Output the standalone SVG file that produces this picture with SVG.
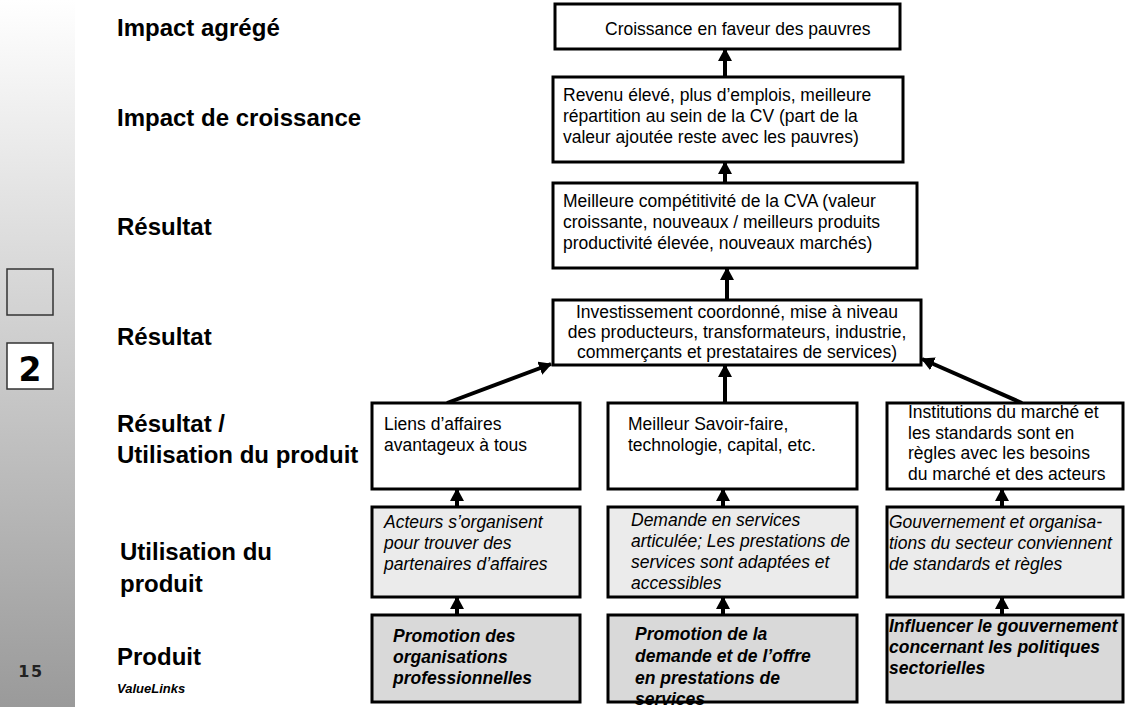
<svg xmlns="http://www.w3.org/2000/svg" width="1126" height="707" viewBox="0 0 1126 707">
<defs>
<linearGradient id="side" x1="0" y1="0" x2="0" y2="1">
<stop offset="0" stop-color="#ffffff"/>
<stop offset="1" stop-color="#9a9a9a"/>
</linearGradient>
<marker id="ah" markerUnits="userSpaceOnUse" markerWidth="14" markerHeight="14" refX="12" refY="7" orient="auto">
<path d="M0,0 L13,7 L0,14 Z" fill="#000"/>
</marker>
<style>
.lvl{font-family:"Liberation Sans",Arial,sans-serif;font-weight:bold;font-size:24px;fill:#000}
.box{fill:#fff;stroke:#000;stroke-width:3}
.use{fill:#ebebeb;stroke:#000;stroke-width:3}
.prod{fill:#d9d9d9;stroke:#000;stroke-width:3}
.t{font-family:"Liberation Sans",Arial,sans-serif;font-size:17.5px;fill:#000}
.ti{font-family:"Liberation Sans",Arial,sans-serif;font-size:17.5px;font-style:italic;fill:#000}
.tb{font-family:"Liberation Sans",Arial,sans-serif;font-size:17.5px;font-style:italic;font-weight:bold;fill:#000}
.arr{stroke:#000;stroke-width:4;fill:none;marker-end:url(#ah)}
</style>
</defs>
<rect width="1126" height="707" fill="#fff"/>
<g id="sidebar">
<rect x="0" y="0" width="75" height="707" fill="url(#side)"/>
<rect x="7" y="269" width="46" height="46" fill="none" stroke="#333" stroke-width="1.5"/>
<rect x="7" y="343" width="46" height="46" fill="#fff" stroke="#333" stroke-width="1.5"/>
<text x="30" y="381" text-anchor="middle" font-family="DejaVu Sans,Verdana,sans-serif" font-weight="bold" font-size="33" fill="#000">2</text>
<text x="31" y="677" text-anchor="middle" font-family="DejaVu Sans,Verdana,sans-serif" font-weight="bold" font-size="16" fill="#222" letter-spacing="1.5">15</text>
</g>
<g id="levels">
<text class="lvl" x="117" y="36">Impact agrégé</text>
<text class="lvl" x="117" y="126">Impact de croissance</text>
<text class="lvl" x="117" y="235">Résultat</text>
<text class="lvl" x="117" y="345">Résultat</text>
<text class="lvl" x="117" y="432">Résultat /</text>
<text class="lvl" x="117" y="463">Utilisation du produit</text>
<text class="lvl" x="120" y="560">Utilisation du</text>
<text class="lvl" x="120" y="592">produit</text>
<text class="lvl" x="117" y="665">Produit</text>
<text x="117" y="693" font-family="Liberation Sans,Arial,sans-serif" font-size="13" font-weight="bold" font-style="italic" fill="#000">ValueLinks</text>
</g>
<g id="connectors">
<line class="arr" x1="725" y1="76" x2="725" y2="49"/>
<line class="arr" x1="725" y1="183" x2="725" y2="162"/>
<line class="arr" x1="727" y1="300" x2="727" y2="268"/>
<line class="arr" x1="725" y1="403" x2="725" y2="365"/>
<line class="arr" x1="447" y1="403" x2="551" y2="364"/>
<line class="arr" x1="1022" y1="403" x2="922" y2="359"/>
<line class="arr" x1="457" y1="507" x2="457" y2="489"/>
<line class="arr" x1="723" y1="507" x2="723" y2="489"/>
<line class="arr" x1="1002" y1="507" x2="1002" y2="489"/>
<line class="arr" x1="457" y1="615" x2="457" y2="597"/>
<line class="arr" x1="723" y1="615" x2="723" y2="597"/>
<line class="arr" x1="1002" y1="615" x2="1002" y2="597"/>
</g>
<g id="n-croissance">
<rect class="box" x="555" y="4" width="345" height="45"/>
<text class="t" x="605" y="35">Croissance en faveur des pauvres</text>
</g>
<g id="n-revenu">
<rect class="box" x="553" y="77" width="350" height="85"/>
<text class="t" x="563" y="101">Revenu élevé, plus d’emplois, meilleure</text>
<text class="t" x="563" y="122">répartition au sein de la CV (part de la</text>
<text class="t" x="563" y="143">valeur ajoutée reste avec les pauvres)</text>
</g>
<g id="n-competitivite">
<rect class="box" x="553" y="183" width="364" height="85"/>
<text class="t" x="563" y="207">Meilleure compétitivité de la CVA (valeur</text>
<text class="t" x="563" y="228">croissante, nouveaux / meilleurs produits</text>
<text class="t" x="563" y="249">productivité élevée, nouveaux marchés)</text>
</g>
<g id="n-investissement">
<rect class="box" x="553" y="300" width="368" height="65"/>
<text class="t" x="737" y="318" text-anchor="middle">Investissement coordonné, mise à niveau</text>
<text class="t" x="737" y="338" text-anchor="middle">des producteurs, transformateurs, industrie,</text>
<text class="t" x="737" y="358" text-anchor="middle">commerçants et prestataires de services)</text>
</g>
<g id="n-liens">
<rect class="box" x="372" y="403" width="208" height="86"/>
<text class="t" x="384" y="430">Liens d’affaires</text>
<text class="t" x="384" y="451">avantageux à tous</text>
</g>
<g id="n-savoir">
<rect class="box" x="608" y="403" width="249" height="86"/>
<text class="t" x="628" y="430">Meilleur Savoir-faire,</text>
<text class="t" x="628" y="451">technologie, capital, etc.</text>
</g>
<g id="n-institutions">
<rect class="box" x="887" y="403" width="236" height="86"/>
<text class="t" x="908" y="418">Institutions du marché et</text>
<text class="t" x="908" y="439">les standards sont en</text>
<text class="t" x="908" y="459">règles avec les besoins</text>
<text class="t" x="908" y="480">du marché et des acteurs</text>
</g>
<g id="n-acteurs">
<rect class="use" x="372" y="507" width="208" height="90"/>
<text class="ti" x="384" y="528">Acteurs s’organisent</text>
<text class="ti" x="384" y="549">pour trouver des</text>
<text class="ti" x="384" y="570">partenaires d’affaires</text>
</g>
<g id="n-demande">
<rect class="use" x="608" y="507" width="249" height="90"/>
<text class="ti" x="631" y="526">Demande en services</text>
<text class="ti" x="631" y="547">articulée; Les prestations de</text>
<text class="ti" x="631" y="568">services sont adaptées et</text>
<text class="ti" x="631" y="589">accessibles</text>
</g>
<g id="n-gouvernement">
<rect class="use" x="887" y="507" width="236" height="90"/>
<text class="ti" x="889" y="528">Gouvernement et organisa-</text>
<text class="ti" x="889" y="549">tions du secteur conviennent</text>
<text class="ti" x="889" y="570">de standards et règles</text>
</g>
<g id="n-promo-org">
<rect class="prod" x="372" y="615" width="208" height="87"/>
<text class="tb" x="393" y="642">Promotion des</text>
<text class="tb" x="393" y="663">organisations</text>
<text class="tb" x="393" y="684">professionnelles</text>
</g>
<g id="n-promo-dem">
<rect class="prod" x="608" y="615" width="249" height="87"/>
<text class="tb" x="635" y="640">Promotion de la</text>
<text class="tb" x="635" y="662">demande et de l’offre</text>
<text class="tb" x="635" y="684">en prestations de</text>
<text class="tb" x="635" y="705">services</text>
</g>
<g id="n-influencer">
<rect class="prod" x="887" y="615" width="236" height="87"/>
<text class="tb" x="889" y="632">Influencer le gouvernement</text>
<text class="tb" x="889" y="653">concernant les politiques</text>
<text class="tb" x="889" y="674">sectorielles</text>
</g>
</svg>
